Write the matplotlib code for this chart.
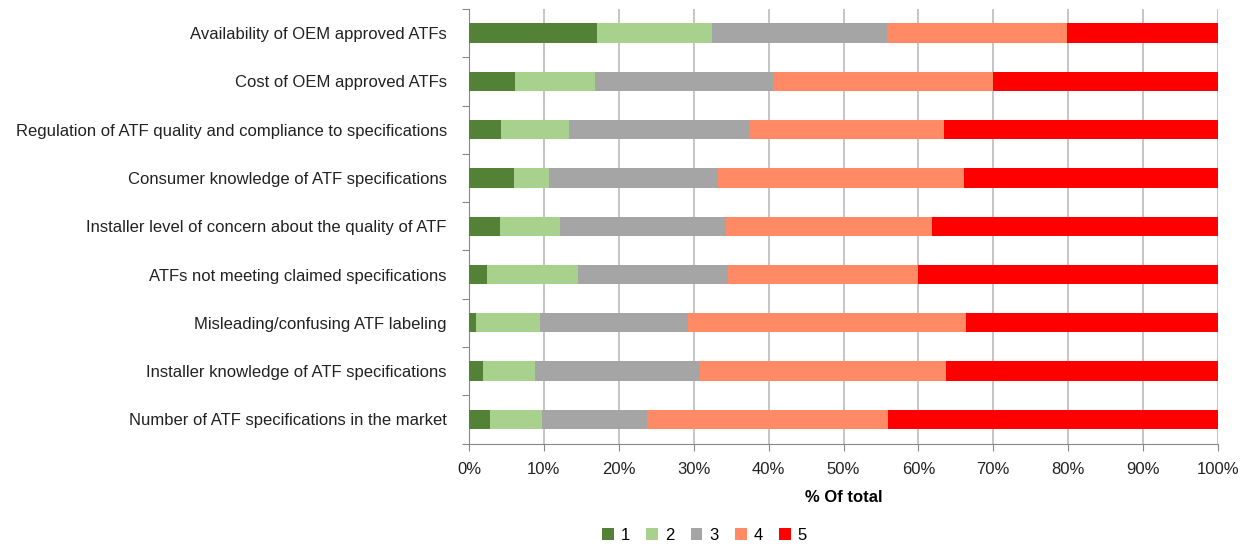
import matplotlib.pyplot as plt
import numpy as np

categories = [
    "Availability of OEM approved ATFs",
    "Cost of OEM approved ATFs",
    "Regulation of ATF quality and compliance to specifications",
    "Consumer knowledge of ATF specifications",
    "Installer level of concern about the quality of ATF",
    "ATFs not meeting claimed specifications",
    "Misleading/confusing ATF labeling",
    "Installer knowledge of ATF specifications",
    "Number of ATF specifications in the market",
]

# share of answers per rating (percent), top row first
r1 = [17.1, 6.1, 4.3, 6.0, 4.2, 2.4, 0.9, 1.9, 2.8]
r2 = [15.4, 10.7, 9.0, 4.7, 8.0, 12.1, 8.6, 6.9, 7.0]
r3 = [23.3, 23.8, 24.1, 22.6, 22.1, 20.1, 19.7, 22.1, 14.0]
r4 = [24.1, 29.4, 26.0, 32.8, 27.5, 25.4, 37.2, 32.8, 32.2]
r5 = [20.1, 30.0, 36.6, 33.9, 38.2, 40.0, 33.6, 36.3, 44.0]

labels = ["1", "2", "3", "4", "5"]
colors = ["#538135", "#A9D18E", "#A5A5A5", "#FF8A65", "#FF0000"]

plt.rcParams['font.family'] = ['Liberation Sans', 'DejaVu Sans']

fig = plt.figure(figsize=(12.47, 5.44), dpi=100)
ax = fig.add_axes([469 / 1247, 1 - 443.5 / 544, 749 / 1247, (443.5 - 9) / 544])

y = np.arange(len(categories))
left = np.zeros(len(categories))
for vals, lab, col in zip([r1, r2, r3, r4, r5], labels, colors):
    ax.barh(y, vals, left=left, height=0.4, color=col, label=lab, zorder=3)
    left += np.array(vals)

ax.set_ylim(len(categories) - 0.5, -0.5)
ax.set_xlim(0, 100)
ax.set_xticks(range(0, 101, 10))
ax.set_xticklabels([f"{v}%" for v in range(0, 101, 10)], fontsize=12, color="#222222")
ax.set_yticks(np.arange(-0.5, len(categories), 1), minor=False)
ax.set_yticklabels([])
ax.set_yticks(y, minor=True)
ax.set_yticklabels(categories, minor=True, fontsize=12, color="#222222")
ax.tick_params(axis='y', which='minor', length=0, pad=16)
ax.tick_params(axis='y', which='major', length=5, color="#888888")
ax.tick_params(axis='x', length=5, color="#888888", pad=8)

ax.grid(axis='x', color="#BBBBBB", linewidth=1.2, zorder=0)
for s in ['top', 'right']:
    ax.spines[s].set_visible(False)
for s in ['left', 'bottom']:
    ax.spines[s].set_color("#888888")

ax.set_xlabel("% Of total", fontsize=12, fontweight='bold', labelpad=10)

fig.legend(loc='lower center', bbox_to_anchor=(0.565, -0.025), ncol=5, frameon=False,
           fontsize=12, handlelength=0.7, handleheight=0.7, handletextpad=0.4,
           columnspacing=1.0)

fig.savefig("out.png", dpi=100)
